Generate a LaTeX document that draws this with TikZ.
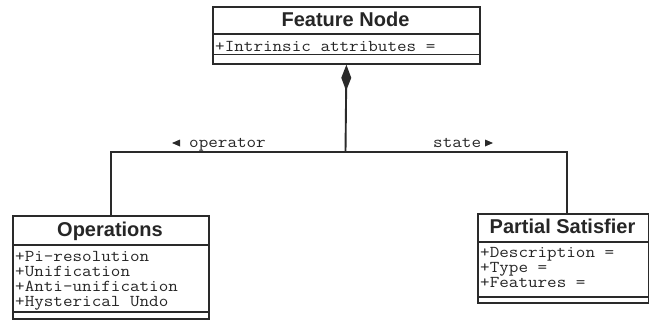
\documentclass[tikz,border=0pt]{standalone}
\usepackage{fontspec}
\newfontfamily\umlhead{Liberation Sans}
\newfontfamily\umlmono{Latin Modern Mono}[FakeStretch=1.12]
\usetikzlibrary{arrows.meta}
\definecolor{ink}{HTML}{2A2A2A}
\definecolor{txt}{HTML}{262626}
\begin{document}
\begin{tikzpicture}[x=1pt,y=-1pt,
  classbox/.style={draw=ink, line width=1.8pt, fill=white, inner sep=0pt,
    anchor=north west},
  sepline/.style={draw=ink, line width=1.6pt},
  conn/.style={draw=ink, line width=1.9pt},
  headtxt/.style={inner sep=0pt, anchor=base, text=txt,
    font=\umlhead\bfseries\fontsize{20}{20}\selectfont},
  attrtxt/.style={inner sep=0pt, anchor=base west, text=txt,
    font=\umlmono\fontsize{16.6}{15}\selectfont},
  roletxt/.style={inner sep=0pt, anchor=base west, text=txt,
    font=\umlmono\fontsize{16.6}{15}\selectfont}]
\useasboundingbox (0,0) rectangle (649,324);

% class boxes
\node[classbox, minimum width=267pt, minimum height=57pt] (feature) at (212,6) {};
\node[classbox, minimum width=196pt, minimum height=103pt] (ops) at (12,215) {};
\node[classbox, minimum width=171pt, minimum height=89pt] (partial) at (477,213) {};

% compartment separators
\draw[sepline] (feature.west |- 0,34) -- (feature.east |- 0,34);
\draw[sepline] (feature.west |- 0,54.5) -- (feature.east |- 0,54.5);
\draw[sepline] (ops.west |- 0,245) -- (ops.east |- 0,245);
\draw[sepline] (ops.west |- 0,312) -- (ops.east |- 0,312);
\draw[sepline] (partial.west |- 0,242) -- (partial.east |- 0,242);
\draw[sepline] (partial.west |- 0,297) -- (partial.east |- 0,297);

% class names
\node[headtxt] (featurename) at (345.5,27) {Feature Node};
\node[headtxt] (opsname) at (110,236) {Operations};
\node[headtxt] (partialname) at (562.5,233) {Partial Satisfier};

% attributes
\node[attrtxt] (fa1) at (215,52) {+Intrinsic attributes =};
\node[attrtxt] (oa1) at (15,261) {+Pi-resolution};
\node[attrtxt] (oa2) at (15,276) {+Unification};
\node[attrtxt] (oa3) at (15,291) {+Anti-unification};
\node[attrtxt] (oa4) at (15,306) {+Hysterical Undo};
\node[attrtxt] (pa1) at (480,257) {+Description =};
\node[attrtxt] (pa2) at (480,272) {+Type =};
\node[attrtxt] (pa3) at (480,287) {+Features =};

% composition connectors
\coordinate (hub) at (345.5,152);
\draw[conn, {Diamond[length=26pt,width=10pt]}-] (feature.south) -- (hub);
\draw[conn] (hub) -| (ops.north -| 111,0);
\draw[conn] (hub) -| (partial.north -| 567,0);

% role labels
\node[roletxt] (oprole) at (189,147) {operator};
\fill[ink] (180,139.5) -- (180,146.5) -- (172,143) -- cycle;
\node[roletxt] (strole) at (433,147) {state};
\fill[ink] (485,139.5) -- (485,146.5) -- (493,143) -- cycle;
\end{tikzpicture}
\end{document}
